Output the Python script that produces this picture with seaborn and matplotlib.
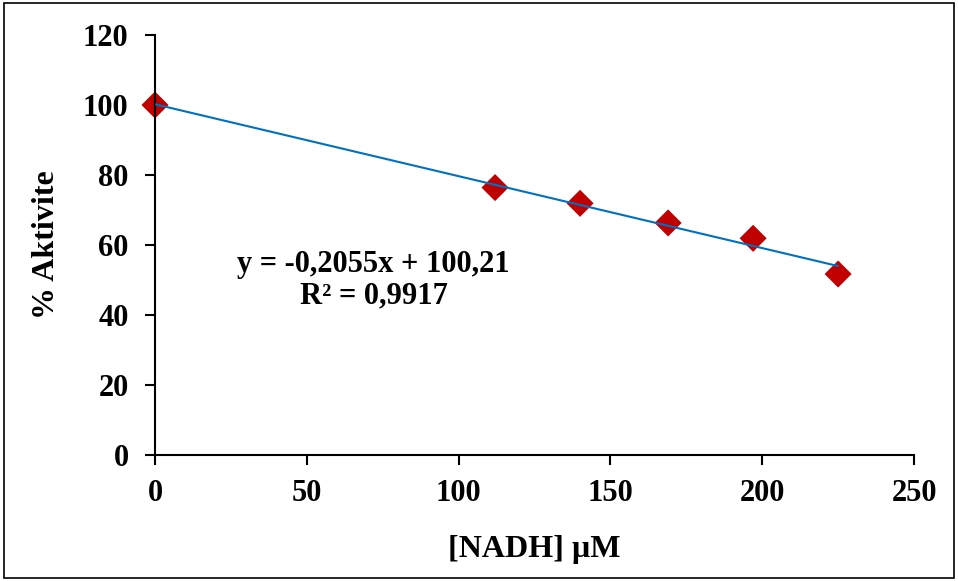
import matplotlib
matplotlib.use("Agg")
import matplotlib.pyplot as plt
from matplotlib.patches import Rectangle
import numpy as np
import pandas as pd
import seaborn as sns

# data
nadh_um = [0, 112, 140, 169, 197, 225]
activity_pct = [100, 76.4, 71.9, 66.3, 61.9, 51.7]
slope, intercept = -0.2055, 100.21
equation_text = "y = -0,2055x + 100,21"
r2_text = "R² = 0,9917"
x_ticks = [0, 50, 100, 150, 200, 250]
y_ticks = [0, 20, 40, 60, 80, 100, 120]

sns.set_theme(style="white")
plt.rcParams["font.family"] = ["Liberation Serif", "DejaVu Serif"]
plt.rcParams["font.weight"] = "bold"
plt.rcParams["text.color"] = "black"
plt.rcParams["axes.labelcolor"] = "black"
plt.rcParams["xtick.color"] = "black"
plt.rcParams["ytick.color"] = "black"

df = pd.DataFrame({"nadh": nadh_um, "act": activity_pct})
fit = pd.DataFrame({"nadh": [min(nadh_um), max(nadh_um)]})
fit["act"] = slope * fit["nadh"] + intercept

fig = plt.figure(figsize=(9.58, 5.81), dpi=100)
ax = fig.add_axes([0.1618, 0.2169, 0.7923, 0.7229])

sns.lineplot(data=fit, x="nadh", y="act", ax=ax, color="#0070C0", linewidth=1.5, zorder=3)
sns.scatterplot(data=df, x="nadh", y="act", ax=ax, marker="D", s=190, color="#C00000",
                edgecolor="none", zorder=2, clip_on=False)

ax.set_xlim(0, 250)
ax.set_ylim(0, 120)
ax.set_xticks(x_ticks)
ax.set_yticks(y_ticks)
ax.tick_params(axis="both", direction="out", length=7, width=1.5, color="black",
               labelsize=22, pad=10, bottom=True, left=True)
ax.tick_params(axis="y", pad=12)
for lab in ax.get_xticklabels() + ax.get_yticklabels():
    lab.set_fontweight("bold")
for side in ["top", "right"]:
    ax.spines[side].set_visible(False)
for side in ["left", "bottom"]:
    ax.spines[side].set_color("black")
    ax.spines[side].set_linewidth(1.5)

ax.set_xlabel("[NADH] µM", fontsize=23, fontweight="bold", labelpad=20)
ax.set_ylabel("% Aktivite", fontsize=23, fontweight="bold", labelpad=16)

ax.text(72, 54.5, equation_text, fontsize=22, fontweight="bold", ha="center", va="center")
ax.text(72, 45.5, r2_text, fontsize=22, fontweight="bold", ha="center", va="center")

fig.patches.append(Rectangle((0.004, 0.005), 0.992, 0.99, transform=fig.transFigure,
                             fill=False, edgecolor="black", linewidth=1.2))

fig.savefig("out.png", dpi=100)
